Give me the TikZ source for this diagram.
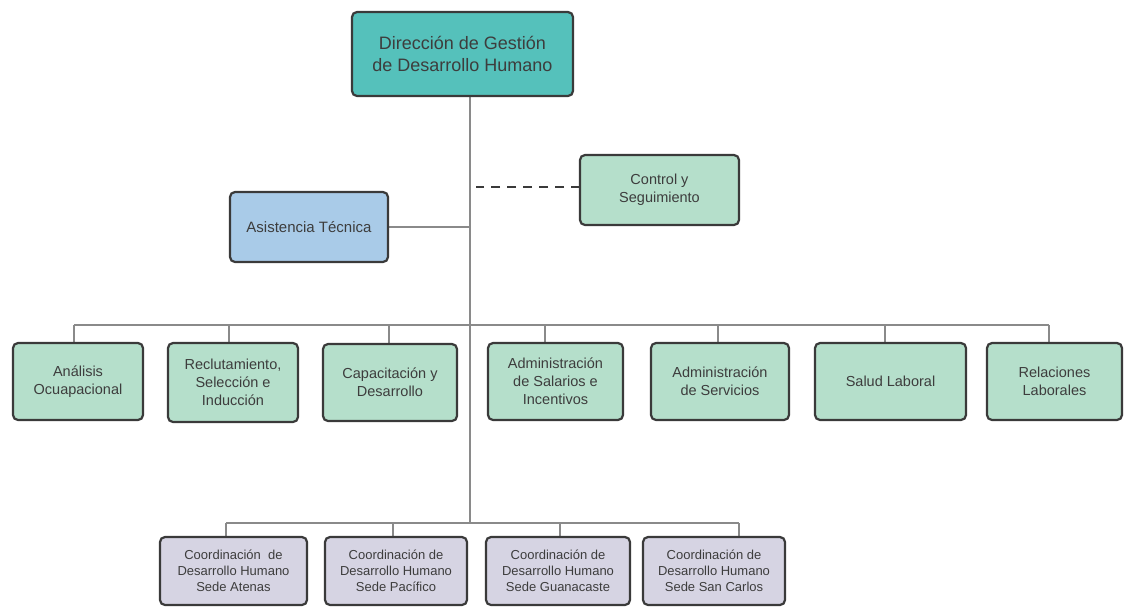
\documentclass[tikz,border=0pt]{standalone}
\usepackage{fontspec}
\setmainfont{Liberation Sans}
\usetikzlibrary{backgrounds}
\definecolor{teal1}{HTML}{55C1BB}
\definecolor{green1}{HTML}{B5DFCB}
\definecolor{blue1}{HTML}{A9CBE8}
\definecolor{lav1}{HTML}{D6D4E3}
\definecolor{border1}{HTML}{3A3A3A}
\definecolor{conn1}{HTML}{8A8A8A}
\definecolor{txt1}{HTML}{3D3D3D}
\tikzset{
  box/.style={draw=border1, line width=2.2pt, rounded corners=5pt, align=center,
    inner sep=0pt, outer sep=0pt, text=txt1},
  topbox/.style={box, fill=teal1, font=\fontsize{18}{22}\selectfont},
  midbox/.style={box, fill=green1, font=\fontsize{14.5}{18}\selectfont},
  asisbox/.style={box, fill=blue1, font=\fontsize{15}{18}\selectfont},
  unitbox/.style={box, fill=green1, minimum height=77pt, font=\fontsize{14.5}{18}\selectfont},
  sedebox/.style={box, fill=lav1, minimum height=68pt, font=\fontsize{13}{16}\selectfont},
  conn/.style={draw=conn1, line width=1.6pt},
  dconn/.style={draw=border1, line width=2pt, dash pattern=on 9pt off 7pt},
}
\begin{document}
\begin{tikzpicture}[x=1pt, y=-1pt]
\useasboundingbox (0,0) rectangle (1124,606);
% top
\node[topbox, minimum width=221pt, minimum height=84pt] (top) at (462.5,54) {Dirección de Gestión\\de Desarrollo Humano};
\node[midbox, minimum width=159pt, minimum height=70pt] (ctrl) at (659.5,190) {Control y\\Seguimiento};
\node[asisbox, minimum width=158pt, minimum height=70pt] (asis) at (309,227) {Asistencia Técnica};
% row 2
\node[unitbox, minimum width=130pt] (r1) at (78,381.5) {Análisis\\Ocuapacional};
\node[unitbox, minimum width=130pt, minimum height=79pt] (r2) at (233,382.5) {Reclutamiento,\\Selección e\\Inducción};
\node[unitbox, minimum width=134pt] (r3) at (390,382.5) {Capacitación y\\Desarrollo};
\node[unitbox, minimum width=135pt] (r4) at (555.5,381.5) {Administración\\de Salarios e\\Incentivos};
\node[unitbox, minimum width=138pt] (r5) at (720,381.5) {Administración\\de Servicios};
\node[unitbox, minimum width=151pt] (r6) at (890.5,381.5) {Salud Laboral};
\node[unitbox, minimum width=135pt] (r7) at (1054.5,381.5) {Relaciones\\Laborales};
% bottom row
\node[sedebox, minimum width=147pt] (b1) at (233.5,571) {Coordinación\ \ de\\Desarrollo Humano\\Sede Atenas};
\node[sedebox, minimum width=142pt] (b2) at (396,571) {Coordinación de\\Desarrollo Humano\\Sede Pacífico};
\node[sedebox, minimum width=144pt] (b3) at (558,571) {Coordinación de\\Desarrollo Humano\\Sede Guanacaste};
\node[sedebox, minimum width=142pt] (b4) at (714,571) {Coordinación de\\Desarrollo Humano\\Sede San Carlos};
% connectors
\coordinate (tt) at ([xshift=7.5pt]top.south);
\coordinate (tb) at (tt |- 0,523);
\coordinate (s1) at ([xshift=-4pt,yshift=18pt]r1.north);
\coordinate (s7) at ([xshift=-5.5pt,yshift=18pt]r7.north);
\coordinate (u1) at ([xshift=-7.5pt,yshift=14pt]b1.north);
\coordinate (u4) at ([xshift=25pt,yshift=14pt]b4.north);
\begin{scope}[on background layer]
\draw[conn] (tt) -- (tb);
\draw[conn] (asis.east) -- (asis.east -| tt);
\draw[dconn] ([yshift=3pt]ctrl.west) -- ++(-104,0);
\draw[conn] (s1) -- (s7);
\draw[conn] (s1) -- (s1 |- r1.north);
\draw[conn] ([xshift=-4pt]r2.north) -- ++(0,-18);
\draw[conn] ([xshift=-1pt]r3.north) -- ++(0,-19);
\draw[conn] ([xshift=-10.5pt]r4.north) -- ++(0,-18);
\draw[conn] ([xshift=-2pt]r5.north) -- ++(0,-18);
\draw[conn] ([xshift=-5.5pt]r6.north) -- ++(0,-18);
\draw[conn] (s7) -- (s7 |- r7.north);
\draw[conn] (u1) -- (u4);
\draw[conn] (u1) -- (u1 |- b1.north);
\draw[conn] ([xshift=-3pt]b2.north) -- ++(0,-14);
\draw[conn] ([xshift=2pt]b3.north) -- ++(0,-14);
\draw[conn] (u4) -- (u4 |- b4.north);
\end{scope}
\end{tikzpicture}
\end{document}
